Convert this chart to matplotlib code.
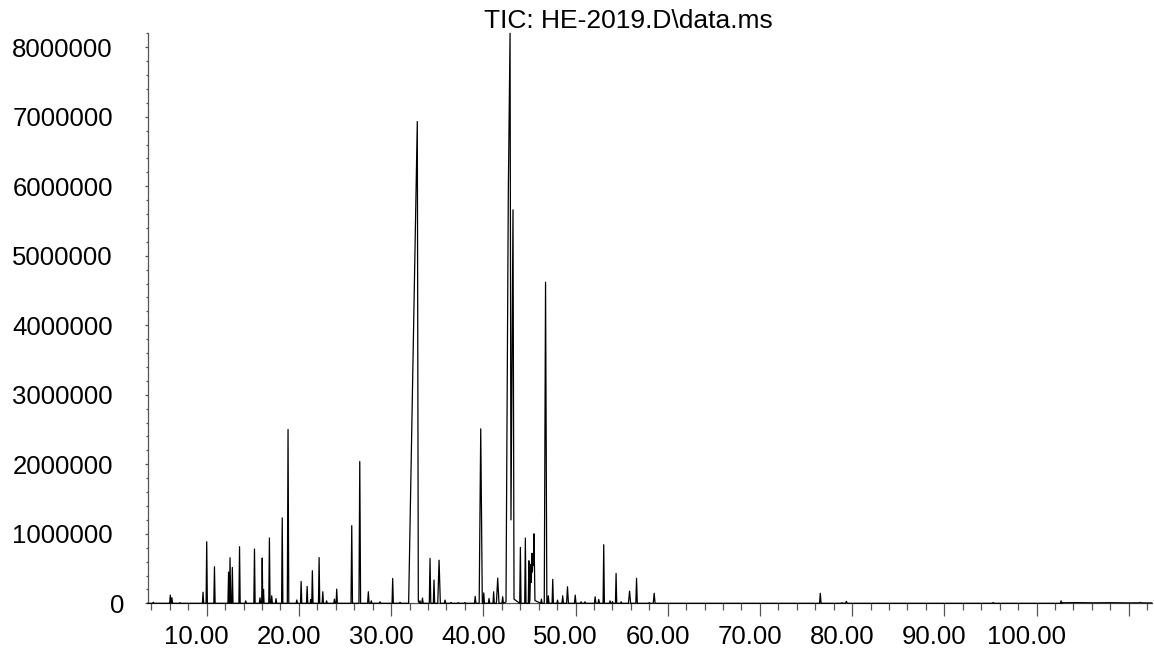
import matplotlib
matplotlib.use("Agg")
import matplotlib.pyplot as plt
import matplotlib.transforms as mtransforms
from matplotlib.ticker import MultipleLocator, FixedLocator

plt.rcParams['font.family'] = ['Liberation Sans', 'DejaVu Sans']

title = "TIC: HE-2019.D\\data.ms"

# Isolated peaks: retention time (min), apex abundance, half base width (min)
peak_rt = [4.20, 6.05, 6.22, 7.10, 9.60, 10.00, 10.84, 12.37, 12.53, 12.78,
           13.56, 14.23, 15.18, 15.78, 16.02, 16.16, 16.80, 17.05, 17.52, 18.19,
           18.82, 19.77, 20.24, 20.89, 21.28, 21.46, 22.19, 22.59, 23.00, 23.85,
           24.10, 25.73, 26.60, 27.53, 27.85, 28.80, 30.17, 30.97, 33.13, 33.40,
           34.22, 34.65, 35.20, 35.85, 36.50, 37.30, 38.00, 39.12, 39.72, 40.05,
           40.62, 41.12, 41.56, 42.10, 44.02, 44.56, 44.94, 46.30, 46.75, 47.05,
           47.53, 48.05, 48.61, 49.13, 49.97, 50.60, 51.03, 52.13, 52.52, 53.06,
           53.74, 54.00, 54.40, 54.95, 55.86, 56.62, 58.00, 58.53, 76.55, 78.90,
           79.38, 95.30, 102.66]
peak_abund = [15000, 118000, 80000, 10000, 160000, 885000, 526000, 450000, 655000, 516000,
              814000, 35000, 781000, 80000, 651000, 200000, 939000, 108000, 68000, 1228000,
              2500000, 48000, 315000, 243000, 55000, 468000, 658000, 166000, 36000, 60000,
              204000, 1117000, 2040000, 166000, 36000, 22000, 358000, 15000, 36000, 75000,
              646000, 335000, 620000, 46000, 12000, 10000, 10000, 100000, 2510000, 150000,
              70000, 166000, 363000, 94000, 804000, 939000, 612000, 60000, 4620000, 108000,
              345000, 46000, 108000, 238000, 118000, 22000, 22000, 94000, 55000, 843000,
              36000, 25000, 430000, 22000, 175000, 360000, 10000, 145000, 145000, 10000,
              28000, 12000, 36000]
peak_halfwidth = [0.08, 0.07, 0.07, 0.08, 0.07, 0.07, 0.07, 0.07, 0.07, 0.07,
                  0.07, 0.08, 0.07, 0.07, 0.06, 0.06, 0.07, 0.07, 0.07, 0.07,
                  0.08, 0.07, 0.07, 0.07, 0.06, 0.07, 0.07, 0.07, 0.07, 0.07,
                  0.07, 0.08, 0.09, 0.08, 0.07, 0.08, 0.07, 0.08, 0.07, 0.08,
                  0.08, 0.07, 0.14, 0.08, 0.10, 0.10, 0.10, 0.08, 0.17, 0.07,
                  0.07, 0.07, 0.14, 0.08, 0.07, 0.07, 0.06, 0.07, 0.14, 0.07,
                  0.07, 0.07, 0.08, 0.10, 0.08, 0.08, 0.08, 0.08, 0.08, 0.07,
                  0.07, 0.07, 0.07, 0.07, 0.12, 0.08, 0.08, 0.10, 0.08, 0.08,
                  0.10, 0.08, 0.07]

# Composite / overlapping regions traced vertex by vertex
front_rt = [31.90, 32.40, 32.52, 32.84, 32.95]
front_abund = [0, 3680000, 4650000, 6930000, 30000]
pair_rt = [42.46, 42.71, 42.90, 43.00, 43.22, 43.33]
pair_abund = [20000, 5900000, 8200000, 1200000, 5660000, 60000]
cluster_rt = [45.05, 45.14, 45.20, 45.27, 45.32, 45.38, 45.43, 45.50, 45.60]
cluster_abund = [50000, 560000, 300000, 720000, 450000, 710000, 550000, 1000000, 40000]
tail_rt = [102.75, 104.5, 106.0, 108.0, 110.0, 111.15, 111.25, 111.4, 112.5]
tail_abund = [8000, 10000, 7000, 9000, 6000, 7000, 14000, 6000, 5000]
run_start = 3.6

x_ticks = [10, 20, 30, 40, 50, 60, 70, 80, 90, 100, 110]
x_labels = ["10.00", "20.00", "30.00", "40.00", "50.00", "60.00", "70.00",
            "80.00", "90.00", "100.00", ""]
y_ticks = [0, 1000000, 2000000, 3000000, 4000000, 5000000, 6000000, 7000000, 8000000]
y_labels = ["0", "1000000", "2000000", "3000000", "4000000", "5000000",
            "6000000", "7000000", "8000000"]

# ---- build the trace ----
verts = [(run_start, 0.0)]
for t, h, w in zip(peak_rt, peak_abund, peak_halfwidth):
    verts += [(t - w, 0.0), (t, h), (t + w, 0.0)]
for rts, ab in ((front_rt, front_abund), (pair_rt, pair_abund),
                (cluster_rt, cluster_abund), (tail_rt, tail_abund)):
    verts += list(zip(rts, ab))
verts.sort(key=lambda v: v[0])
xs = [v[0] for v in verts]
ys = [v[1] for v in verts]

fig = plt.figure(figsize=(11.54, 6.49), dpi=100)
ax = fig.add_axes([0.1280, 0.0704, 0.8703, 0.8783])
ax.plot(xs, ys, color='black', lw=0.9, clip_on=False, zorder=3)

ax.set_xlim(3.6, 112.53)
ax.set_ylim(0, 8.2e6)

for s in ('top', 'right'):
    ax.spines[s].set_visible(False)
axis_color = '#555555'
for s in ('left', 'bottom'):
    ax.spines[s].set_color(axis_color)
    ax.spines[s].set_linewidth(0.9)

ax.xaxis.set_major_locator(FixedLocator(x_ticks))
ax.set_xticklabels(x_labels)
ax.xaxis.set_minor_locator(MultipleLocator(2))
ax.yaxis.set_major_locator(FixedLocator(y_ticks))
ax.set_yticklabels(y_labels)
ax.yaxis.set_minor_locator(MultipleLocator(200000))

ax.tick_params(axis='x', which='major', length=9.4, width=0.9, color=axis_color,
               pad=6.5, labelsize=18.5)
ax.tick_params(axis='x', which='minor', length=4.8, width=0.9, color=axis_color)
ax.tick_params(axis='y', which='major', length=2.4, width=0.9, color=axis_color,
               pad=22.6, labelsize=18.5)
ax.tick_params(axis='y', which='minor', length=1.5, width=0.9, color=axis_color)

dx = mtransforms.ScaledTranslation(-10 / 100, 0, fig.dpi_scale_trans)
for lab in ax.xaxis.get_majorticklabels():
    lab.set_transform(lab.get_transform() + dx)
for lab in ax.yaxis.get_majorticklabels():
    if lab.get_text() == "0":
        lab.set_transform(lab.get_transform() +
                          mtransforms.ScaledTranslation(11 / 100, 0, fig.dpi_scale_trans))

fig.text(628.3 / 1154, 1 - 28.3 / 649, title, ha='center', va='baseline', fontsize=19)

fig.savefig("out.png", dpi=100)
